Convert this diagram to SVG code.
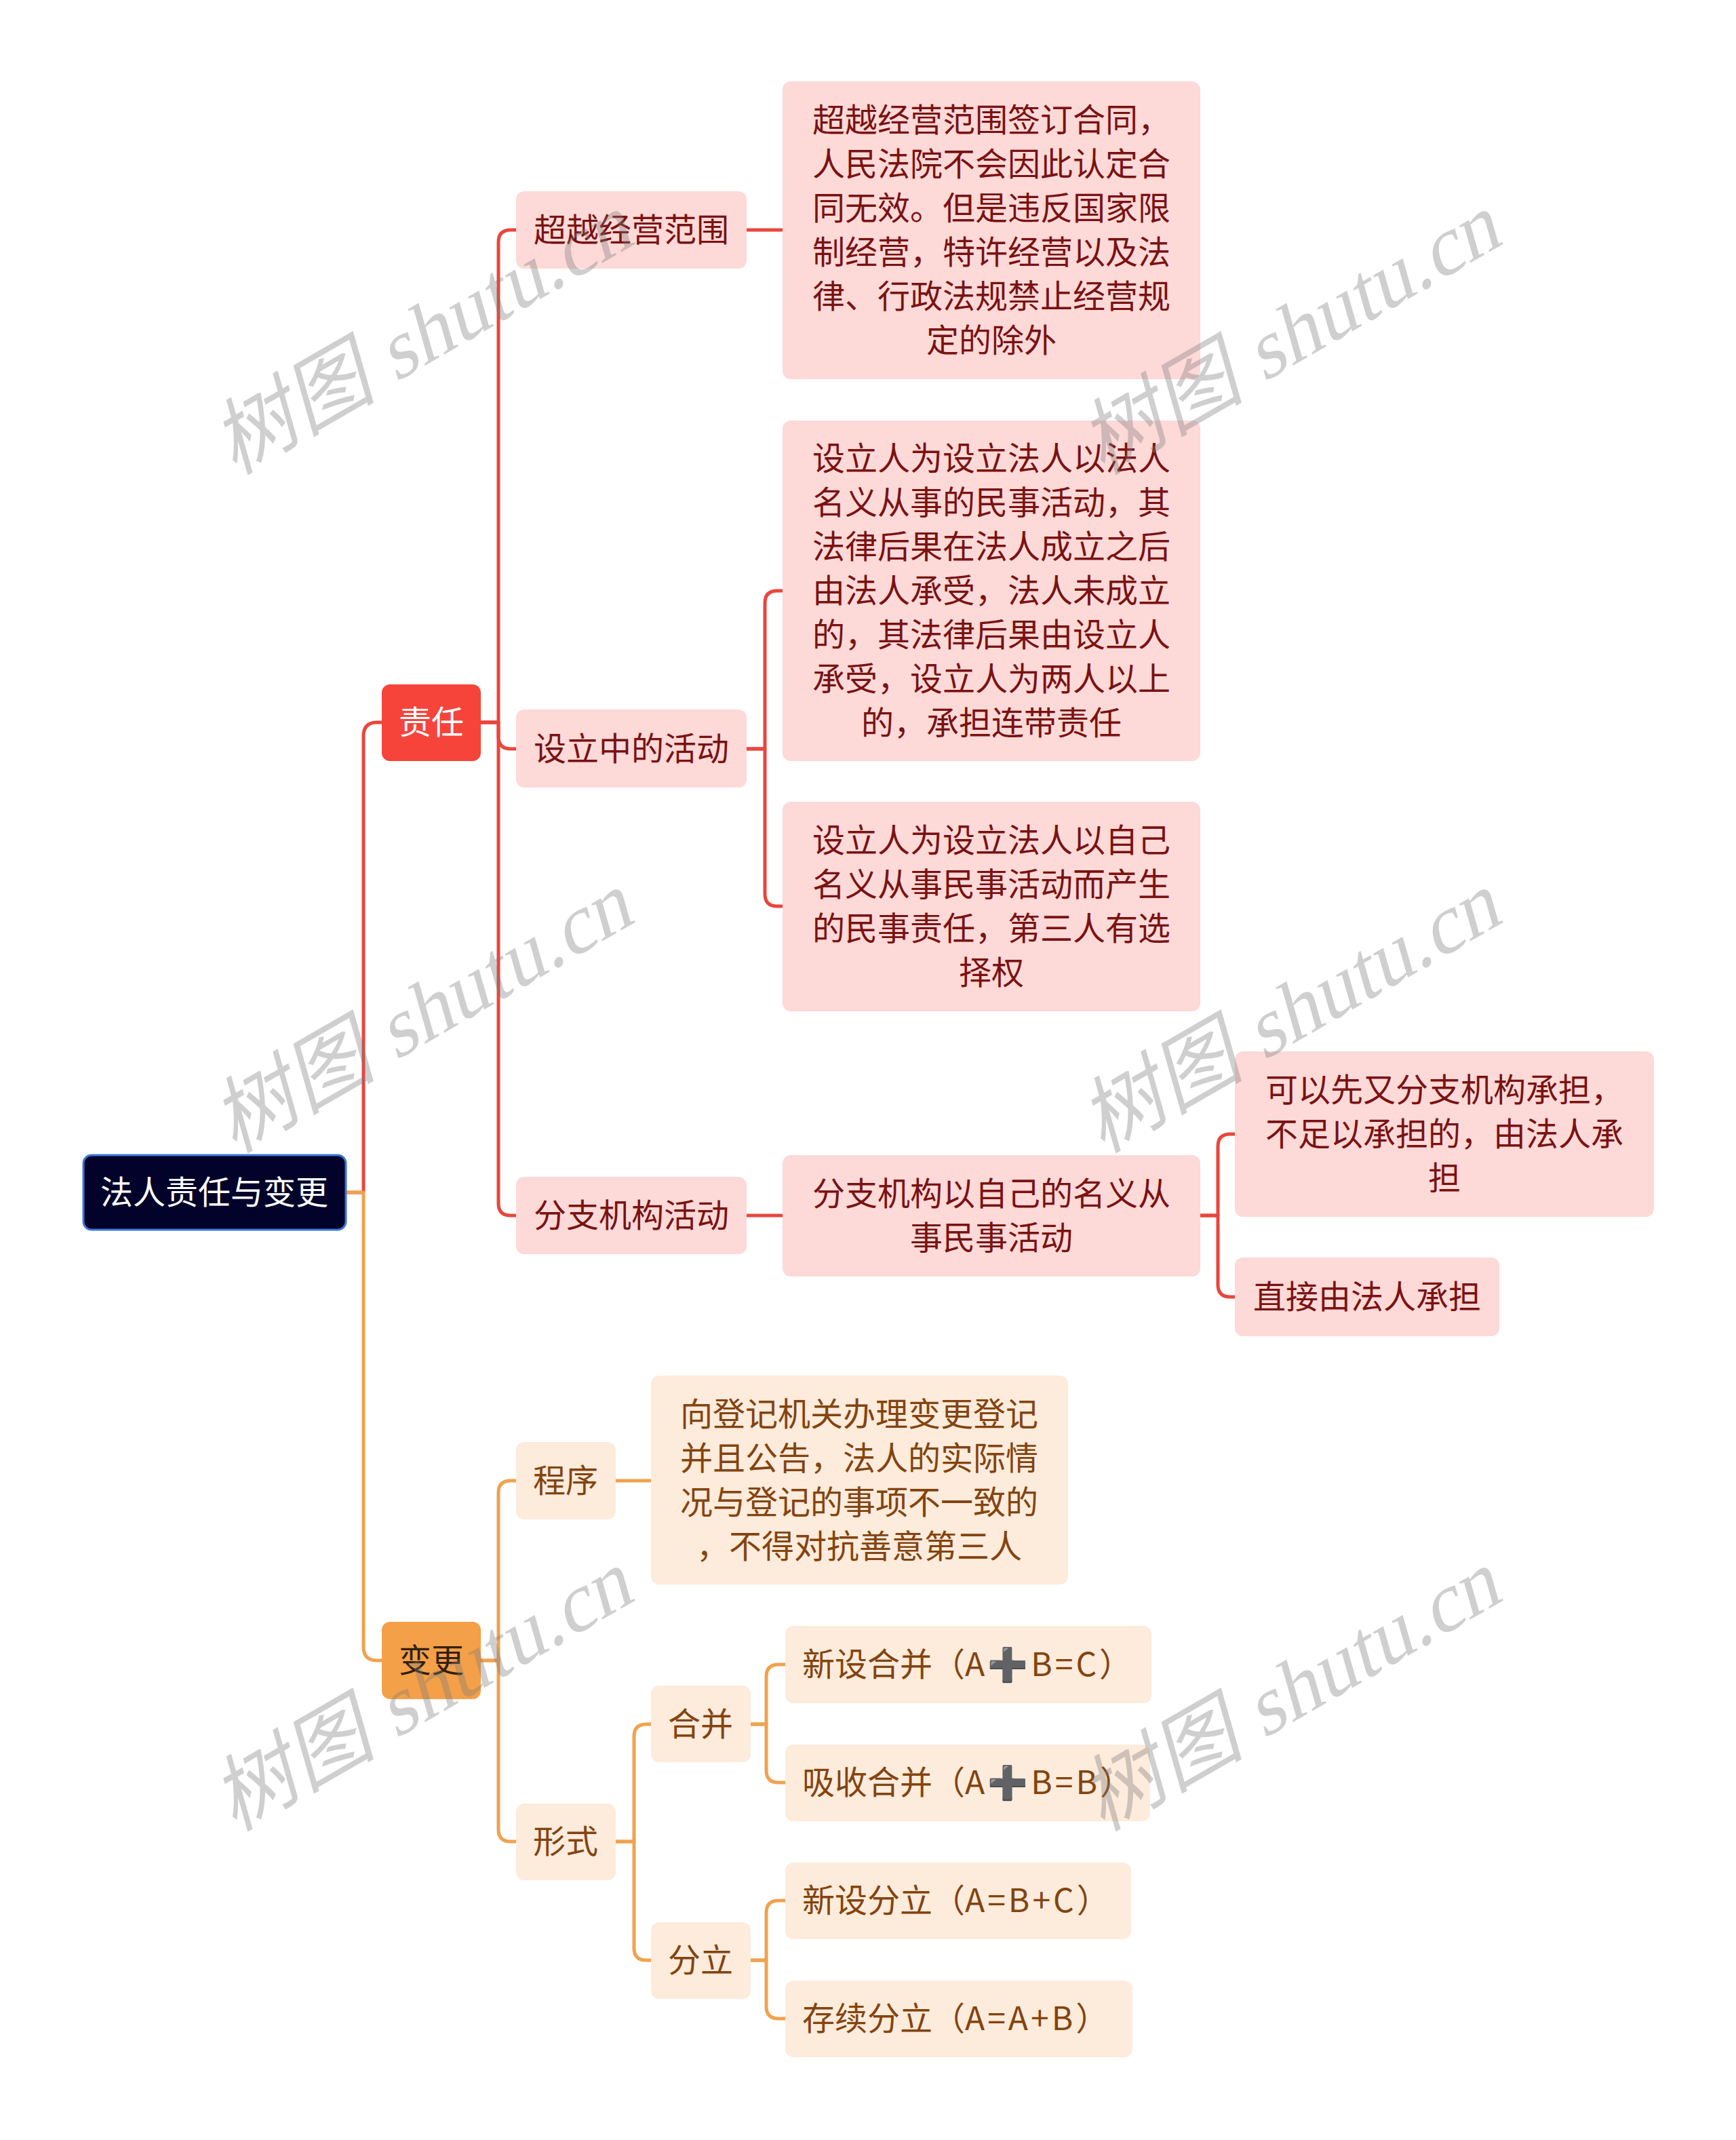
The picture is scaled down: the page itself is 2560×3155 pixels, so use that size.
<svg xmlns="http://www.w3.org/2000/svg" width="2560" height="3155" viewBox="0 0 2560 3155">
<style>
  text { font-family: "Noto Sans CJK SC", "Microsoft YaHei", "Noto Sans", sans-serif; font-size: 48px; }
  .c { text-anchor: middle; }
  .l { text-anchor: start; }
  .lnR { fill: none; stroke: #e9463d; stroke-width: 5; stroke-linecap: round; stroke-linejoin: round; }
  .lnO { fill: none; stroke: #f0a24e; stroke-width: 5; stroke-linecap: round; stroke-linejoin: round; }
  .bR { fill: #fdd9d8; }
  .bO { fill: #fdebdc; }
  .tR { fill: #7a1212; }
  .tO { fill: #83440f; }
  .lat { letter-spacing: 4px; }
  .plus { font-family: "DejaVu Sans", sans-serif; fill: #b4b4b4; stroke: #111; stroke-width: 1.3; letter-spacing: 4px; }
  .wm { font-family: "Liberation Serif", "Noto Sans CJK SC", serif; font-size: 122px; fill: #7a7a7a; fill-opacity: 0.36; text-anchor: middle; }
</style>
<rect width="2560" height="3155" fill="#ffffff"/>

<g id="connectors">
  <path class="lnR" d="M510,1758 H536 V1085 Q536,1065 556,1065 H563"/>
  <path class="lnO" d="M510,1758 H536 V2428 Q536,2448 556,2448 H563"/>
  <path class="lnR" d="M709,1065 H735 V357 Q735,339 753,339 H761"/>
  <path class="lnR" d="M709,1065 H735 V1086 Q735,1104 753,1104 H761"/>
  <path class="lnR" d="M709,1065 H735 V1774 Q735,1792 753,1792 H761"/>
  <path class="lnR" d="M1101,339 H1154"/>
  <path class="lnR" d="M1101,1104 H1128 V889 Q1128,871 1146,871 H1154"/>
  <path class="lnR" d="M1101,1104 H1128 V1318 Q1128,1336 1146,1336 H1154"/>
  <path class="lnR" d="M1101,1792 H1154"/>
  <path class="lnR" d="M1770,1792 H1796 V1690 Q1796,1672 1814,1672 H1821"/>
  <path class="lnR" d="M1770,1792 H1796 V1894 Q1796,1912 1814,1912 H1821"/>
  <path class="lnO" d="M709,2448 H735 V2201 Q735,2183 753,2183 H761"/>
  <path class="lnO" d="M709,2448 H735 V2697 Q735,2715 753,2715 H761"/>
  <path class="lnO" d="M908,2183 H960"/>
  <path class="lnO" d="M908,2715 H935 V2560 Q935,2542 953,2542 H960"/>
  <path class="lnO" d="M908,2715 H935 V2872 Q935,2890 953,2890 H960"/>
  <path class="lnO" d="M1107,2542 H1130 V2472 Q1130,2454 1148,2454 H1158"/>
  <path class="lnO" d="M1107,2542 H1130 V2610 Q1130,2628 1148,2628 H1158"/>
  <path class="lnO" d="M1107,2890 H1130 V2820 Q1130,2802 1148,2802 H1158"/>
  <path class="lnO" d="M1107,2890 H1130 V2958 Q1130,2976 1148,2976 H1158"/>
</g>

<g id="root">
  <rect x="123" y="1703" width="387" height="110" rx="12" fill="#02022a" stroke="#3b78d6" stroke-width="3"/>
  <text class="c" x="316" y="1775" fill="#ffffff">法人责任与变更</text>
</g>

<g id="zeren">
  <rect x="563" y="1009" width="146" height="113" rx="12" fill="#f6443b"/>
  <text class="c" x="636" y="1082" fill="#ffffff">责任</text>
</g>

<g id="biangeng">
  <rect x="563" y="2391" width="146" height="114" rx="12" fill="#f4a049"/>
  <text class="c" x="636" y="2465" fill="#33200c">变更</text>
</g>

<g id="chaoyue">
  <rect class="bR" x="761" y="282" width="340" height="114" rx="12"/>
  <text class="c tR" x="931" y="356">超越经营范围</text>
</g>

<g id="chaoyue-detail">
  <rect class="bR" x="1154" y="120" width="616" height="439" rx="12"/>
  <text class="c tR" x="1462" y="194">超越经营范围签订合同，</text>
  <text class="c tR" x="1462" y="259">人民法院不会因此认定合</text>
  <text class="c tR" x="1462" y="324">同无效。但是违反国家限</text>
  <text class="c tR" x="1462" y="389">制经营，特许经营以及法</text>
  <text class="c tR" x="1462" y="454">律、行政法规禁止经营规</text>
  <text class="c tR" x="1462" y="519">定的除外</text>
</g>

<g id="sheli">
  <rect class="bR" x="761" y="1046" width="340" height="115" rx="12"/>
  <text class="c tR" x="931" y="1121">设立中的活动</text>
</g>

<g id="sheli-detail1">
  <rect class="bR" x="1154" y="620" width="616" height="502" rx="12"/>
  <text class="c tR" x="1462" y="693">设立人为设立法人以法人</text>
  <text class="c tR" x="1462" y="758">名义从事的民事活动，其</text>
  <text class="c tR" x="1462" y="823">法律后果在法人成立之后</text>
  <text class="c tR" x="1462" y="888">由法人承受，法人未成立</text>
  <text class="c tR" x="1462" y="953">的，其法律后果由设立人</text>
  <text class="c tR" x="1462" y="1018">承受，设立人为两人以上</text>
  <text class="c tR" x="1462" y="1083">的，承担连带责任</text>
</g>

<g id="sheli-detail2">
  <rect class="bR" x="1154" y="1182" width="616" height="309" rx="12"/>
  <text class="c tR" x="1462" y="1256">设立人为设立法人以自己</text>
  <text class="c tR" x="1462" y="1321">名义从事民事活动而产生</text>
  <text class="c tR" x="1462" y="1386">的民事责任，第三人有选</text>
  <text class="c tR" x="1462" y="1451">择权</text>
</g>

<g id="fenzhi">
  <rect class="bR" x="761" y="1735" width="340" height="114" rx="12"/>
  <text class="c tR" x="931" y="1809">分支机构活动</text>
</g>

<g id="fenzhi-detail">
  <rect class="bR" x="1154" y="1703" width="616" height="179" rx="12"/>
  <text class="c tR" x="1462" y="1777">分支机构以自己的名义从</text>
  <text class="c tR" x="1462" y="1842">事民事活动</text>
</g>

<g id="fenzhi-a">
  <rect class="bR" x="1821" y="1550" width="618" height="244" rx="12"/>
  <text class="c tR" x="2130" y="1624">可以先又分支机构承担，</text>
  <text class="c tR" x="2130" y="1689">不足以承担的，由法人承</text>
  <text class="c tR" x="2130" y="1754">担</text>
</g>

<g id="fenzhi-b">
  <rect class="bR" x="1821" y="1854" width="390" height="116" rx="12"/>
  <text class="c tR" x="2016" y="1929">直接由法人承担</text>
</g>

<g id="chengxu">
  <rect class="bO" x="761" y="2126" width="147" height="114" rx="12"/>
  <text class="c tO" x="834" y="2200">程序</text>
</g>

<g id="chengxu-detail">
  <rect class="bO" x="960" y="2028" width="615" height="308" rx="12"/>
  <text class="c tO" x="1267" y="2102">向登记机关办理变更登记</text>
  <text class="c tO" x="1267" y="2167">并且公告，法人的实际情</text>
  <text class="c tO" x="1267" y="2232">况与登记的事项不一致的</text>
  <text class="c tO" x="1267" y="2297">，不得对抗善意第三人</text>
</g>

<g id="xingshi">
  <rect class="bO" x="761" y="2659" width="147" height="113" rx="12"/>
  <text class="c tO" x="834" y="2732">形式</text>
</g>

<g id="hebing">
  <rect class="bO" x="960" y="2485" width="147" height="113" rx="12"/>
  <text class="c tO" x="1033" y="2559">合并</text>
</g>

<g id="fenli">
  <rect class="bO" x="960" y="2834" width="147" height="113" rx="12"/>
  <text class="c tO" x="1033" y="2907">分立</text>
</g>

<g id="hebing-a">
  <rect class="bO" x="1158" y="2397" width="540" height="114" rx="12"/>
  <text class="l tO" x="1183" y="2471">新设合并（<tspan class="lat">A</tspan><tspan class="plus">➕</tspan><tspan class="lat">B=C</tspan>）</text>
</g>

<g id="hebing-b">
  <rect class="bO" x="1158" y="2572" width="538" height="113" rx="12"/>
  <text class="l tO" x="1183" y="2645">吸收合并（<tspan class="lat">A</tspan><tspan class="plus">➕</tspan><tspan class="lat">B=B</tspan>）</text>
</g>

<g id="fenli-a">
  <rect class="bO" x="1158" y="2746" width="510" height="113" rx="12"/>
  <text class="l tO" x="1183" y="2819">新设分立（<tspan class="lat">A=B+C</tspan>）</text>
</g>

<g id="fenli-b">
  <rect class="bO" x="1158" y="2920" width="512" height="113" rx="12"/>
  <text class="l tO" x="1183" y="2993">存续分立（<tspan class="lat">A=A+B</tspan>）</text>
</g>

<g id="watermarks">
  <text class="wm" transform="translate(642,530) rotate(-30) skewX(-14)">树图 shutu.cn</text>
  <text class="wm" transform="translate(1922,530) rotate(-30) skewX(-14)">树图 shutu.cn</text>
  <text class="wm" transform="translate(642,1530) rotate(-30) skewX(-14)">树图 shutu.cn</text>
  <text class="wm" transform="translate(1922,1530) rotate(-30) skewX(-14)">树图 shutu.cn</text>
  <text class="wm" transform="translate(642,2530) rotate(-30) skewX(-14)">树图 shutu.cn</text>
  <text class="wm" transform="translate(1922,2530) rotate(-30) skewX(-14)">树图 shutu.cn</text>
</g>
</svg>
